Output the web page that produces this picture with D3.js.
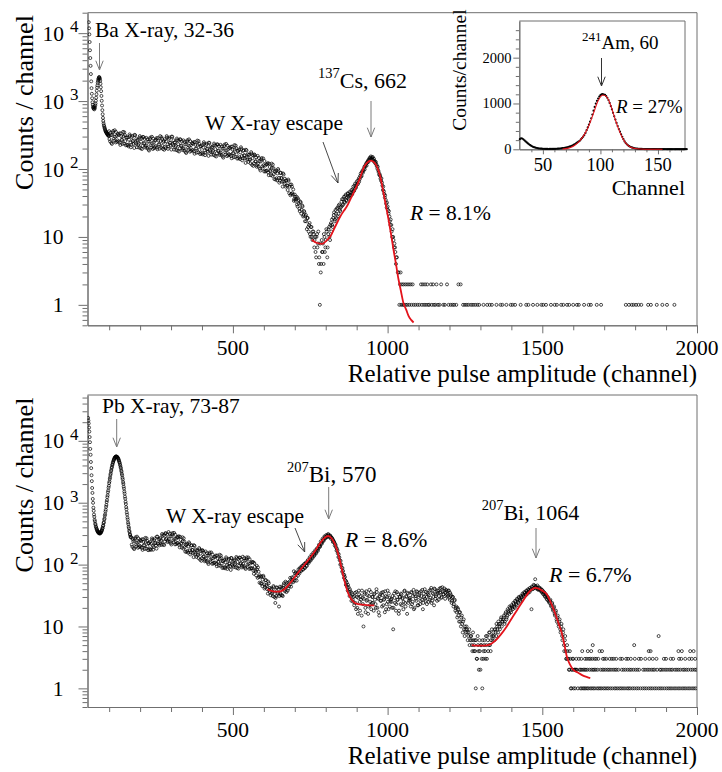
<!DOCTYPE html>
<html><head><meta charset="utf-8">
<script src="https://cdn.jsdelivr.net/npm/d3@7"></script>
<style>
body{margin:0;background:#fff}
svg{display:block}
text{font-family:"Liberation Serif","Times New Roman",serif;fill:#000}
</style>
</head><body>
<svg id="chart" width="722" height="772"></svg>
<script>
// ---------------- DATA ----------------
// Top panel: 137Cs spectrum (counts per channel)
const csLowStart = 34;            // step 1
const csLowCounts = [
 14500,11800,9600,7400,5600,4300,3300,2500,1950,1550,
 1280,1100,960,880,820,790,770,810,755,835,
 790,865,920,1010,1120,1260,1420,1580,1700,1860,
 1980,2090,2150,2230,2260,2200,2120,1990,1800,1600,
 1400,1190,1010,860,735,640,565,510,470,440,
 425,405,392,378,366,357,350,341,344,330,
 330,318,322,310,315,305];
const csMidStart = 100, csMidStep = 3;
const csMidCounts = [
 360,255,315,234,345,279,372,246,306,264,
 254,333,226,305,268,352,237,316,223,290,
 292,215,323,244,228,307,260,204,315,236,
 209,270,237,305,202,285,219,295,242,207,
 288,204,252,187,276,223,298,197,245,211,
 218,285,195,262,232,305,207,278,197,258,
 275,203,305,230,215,290,245,193,298,223,
 193,248,218,281,186,262,202,271,223,190,
 264,187,231,172,253,205,273,180,224,194,
 189,248,168,227,200,262,176,235,166,216,
 223,164,248,187,175,235,199,156,242,181,
 163,210,184,237,157,221,171,229,188,161,
 227,161,198,147,217,176,234,155,193,166,
 162,212,144,194,171,225,151,202,142,185,
 193,140,209,155,144,190,159,123,188,139,
 127,162,139,177,115,160,121,160,130,108,
 156,108,131,95,138,109,143,92,112,94,
 95,122,81,107,92,120,79,103,71,91,
 95,68,100,74,67,88,73,55,83,61,
 55,67,57,70,44,59,43,55,42,34,
 42,34,39,28,35,26,33,22,29,20,
 24,17,21,13,19,12,16,10,14,9,
 12,7,10,5,11,8,4,1,3,9,
 6,4,10,7,13,5,11,14,9,16,
 18,14,21,17,25,19,27,22,30,24,
 28,36,30,39,32,42,34,44,37,46,
 41,49,43,55,48,61,54,66,60,73,
 71,86,79,95,94,108,110,121,124,134,
 136,147,153,139,150,130,131,120,116,101,
 95,82,79,67,63,49,47,38,35,27,
 28,22,20,15,15,10,10,7,7,4,5,3,3];
const csMid2Start = 101, csMid2Step = 3;
const csMid2Counts = [
 276,342,243,318,363,261,297,351,252,327,
 316,243,336,268,234,305,347,257,290,226,
 225,270,307,209,294,257,233,318,246,281,
 265,227,207,290,252,197,297,237,277,217,
 221,274,194,254,290,209,238,281,202,262,
 269,206,286,228,199,259,295,218,247,192,
 213,255,290,198,278,243,220,300,233,265,
 244,209,190,267,232,181,274,218,255,200,
 202,251,178,233,266,191,218,257,185,240,
 235,181,250,200,174,227,258,191,216,168,
 173,207,235,160,225,197,179,244,189,215,
 206,176,161,225,196,153,231,184,216,169,
 174,215,153,200,229,164,187,221,159,206,
 202,155,214,171,149,194,221,164,185,144,
 149,176,198,134,185,159,143,192,147,165,
 161,136,121,168,144,111,164,129,149,114,
 120,145,101,129,145,102,114,131,92,117,
 118,89,120,94,81,104,116,84,93,70,
 73,86,95,63,87,74,65,86,65,72,
 68,57,49,67,55,41,59,44,50,36,
 39,36,30,37,31,24,32,25,28,21,
 23,20,17,19,14,15,11,14,10,12,
 11,9,6,10,7,12,5,8,4,6,
 8,11,6,9,12,7,13,10,15,12,
 15,19,23,18,22,26,20,29,25,27,
 33,29,36,33,40,35,38,43,39,41,
 45,42,50,47,57,52,58,62,68,65,
 79,77,90,88,101,99,115,112,128,127,
 143,139,144,148,137,141,125,127,110,108,
 90,84,72,73,57,55,43,41,31,32,
 25,24,17,18,12,13,9,8,6,5];
const csTailThree = [1042];
const csTailTwo = [1040,1046,1051,1057,1063,1069,1075,1081,1108,1114,1121,1128,1140,1147,1158,1173,1192,1229,1236];
const csTailOne = [1038,1044,1049,1053,1059,1064,1070,1077,1084,1090,1097,1103,1111,1118,1124,1131,1135,1143,1150,1155,
 1163,1168,1180,1185,1197,1204,1210,1215,1222,1244,1250,1256,1262,1270,1276,1283,1290,1296,1310,1322,
 1330,1337,1352,1365,1371,1384,1398,1404,1412,1430,1448,1455,1470,1484,1497,1503,1512,1528,1540,1547,
 1561,1568,1580,1587,1600,1612,1618,1635,1650,1657,1676,1690,1770,1780,1789,1795,1803,1811,1820,1842,
 1851,1870,1888,1903,1927];
const csFitChannels = [755,770,788,800,815,830,847,858,868,880,895,910,922,934,946,955,965,976,987,995,1003,1011,1019,1027,1035,1043,1051,1060,1068,1076,1084];
const csFitCounts   = [9.1,8.2,7.9,8.6,10.2,14,20,24,28,36,49.5,72,103,124,133,127,109,78,44,28,18,11,6.5,4.0,2.4,1.6,1.07,0.85,0.68,0.6,0.55];

// Inset: 241Am spectrum
const amStart = 30;   // step 1
const amCounts = [
 220,240,236,218,196,172,150,128,108,90,
 74,60,49,40,33,27,22,18,15,13,
 11,10,9,8,8,7,8,8,9,9,
 10,11,12,14,16,18,21,24,28,33,
 38,43,50,57,66,76,88,101,116,133,
 152,168,186,215,245,276,310,358,418,478,
 540,602,678,758,842,925,998,1058,1108,1150,
 1182,1197,1204,1196,1188,1162,1124,1074,1012,944,
 872,796,720,648,576,506,441,384,328,274,
 220,172,136,108,86,69,55,44,35,28,
 22,18,15,12,10,9,8,7,6,6,
 5,6,4,5,4,6,5,4,5,3,5,4,6,4,3,5,4,5,3,4,6,4,3,5,4,3,5,4,4,3,5,4,3,4,5,3];
const amFitChannels = [67,70,74,78,82,86,90,94,98,101,102,104,107,110,113,116,119,122,126,130,135,140,146,154];
const amFitCounts   = [5,14,40,95,185,320,520,790,1060,1170,1185,1175,1080,880,640,430,255,135,50,17,5,2,0,0];

// Bottom panel: 207Bi spectrum
const biLowStart = 32;   // step 1
const biLowCounts = [
 23500,21200,19100,16400,14100,11500,9500,7400,5950,4550,
 3620,2780,2230,1730,1440,1150,995,830,740,645,
 592,528,500,458,440,411,401,380,374,356,
 353,339,340,328,331,321,327,318,325,319,
 331,326,341,340,358,361,384,390,420,430,
 468,484,532,556,616,650,722,770,858,920,
 1025,1100,1230,1318,1470,1575,1752,1875,2075,2205,
 2425,2570,2810,2965,3215,3375,3630,3785,4040,4185,
 4430,4560,4785,4890,5090,5170,5330,5380,5500,5510,
 5580,5550,5570,5500,5490,5370,5315,5160,5070,4870,
 4760,4530,4400,4150,4000,3750,3590,3330,3170,2920,
 2760,2520,2375,2150,2015,1815,1690,1515,1405,1255,
 1160,1035,952,848,782,696,644,575,535,480,
 450,407,385,352,337,311,301,283,276];
const biMidStart = 172, biMidStep = 3;
const biMidCounts = [
 274,194,239,178,262,212,283,187,233,201,
 194,255,173,233,205,270,181,242,171,222,
 231,173,265,202,193,264,226,181,283,215,
 204,268,239,312,210,301,235,321,267,231,
 336,235,288,211,308,246,325,212,261,223,
 223,287,190,251,215,276,181,235,162,206,
 215,156,229,170,157,206,172,132,200,147,
 133,169,146,185,120,167,127,167,135,113,
 163,114,140,102,150,119,157,103,126,107,
 108,140,94,126,110,144,96,127,88,114,
 118,87,131,98,92,124,105,82,127,95,
 91,118,103,133,88,124,96,129,106,90,
 134,94,116,85,124,99,130,85,104,88,
 87,110,71,92,77,96,61,77,51,64,
 64,45,66,48,43,56,45,34,50,36,
 32,41,36,45,30,24,31,42,35,21,
 44,32,41,31,47,39,53,36,46,41,
 45,61,44,62,57,78,55,75,55,74,
 84,72,90,79,96,83,102,88,108,95,
 118,106,131,116,144,127,156,139,170,152,
 184,168,209,193,237,216,262,241,286,268,
 301,278,312,281,296,260,270,232,238,203,
 207,168,170,132,131,100,101,77,79,61,
 63,47,51,38,43,31,37,26,33,25,
 22,35,19,30,16,38,25,31,15,29,
 10,33,20,37,27,16,31,22,36,24,
 30,18,34,23,40,20,28,15,33,26,
 21,36,27,17,31,23,38,19,29,25,
 28,20,9,34,24,18,36,27,16,30,
 23,33,28,19,37,24,31,16,34,26,
 29,21,35,25,39,20,31,26,36,22,
 32,23,37,27,19,34,40,26,30,35,
 25,38,29,42,26,34,22,40,31,37,
 35,27,41,36,29,43,33,38,28,39,
 37,31,38,27,33,24,30,21,26,18,
 21,14,19,12,17,10,15,8,13,7,
 9,10,8,7,9,6,7,5,8,4,
 6,1,3,7,4,6,2,5,1,3,
 5,4,7,3,6,5,8,4,7,6,
 8,6,9,7,10,8,11,9,13,10,
 12,14,11,16,13,15,18,16,20,17,
 21,19,23,20,25,22,27,24,29,26,
 30,27,33,31,35,32,37,34,39,36,
 40,19,43,41,46,58,44,42,40,43,
 39,41,36,38,33,35,30,32,27,29,
 25,26,22,23,19,20,16,17,13,14,
 11,12,9,10,7,8,5,6,4,3,
 4,3,2,3,1,2,3,2,1,2,
 2,1,3,2];
const biMid2Start = 173, biMid2Step = 3;
const biMid2Counts = [
 210,260,185,242,276,198,226,267,192,249,
 242,186,257,205,179,233,266,197,222,173,
 179,217,252,174,249,221,203,282,221,257,
 258,225,208,297,262,207,319,258,306,243,
 258,316,222,287,324,231,259,303,215,276,
 278,209,282,220,188,239,266,191,211,160,
 166,196,218,146,202,173,154,206,156,175,
 168,142,127,176,150,115,172,134,155,119,
 125,153,108,139,157,111,126,146,104,133,
 134,102,140,111,96,124,140,103,115,89,
 91,109,124,85,119,104,94,128,100,113,
 116,99,90,127,110,86,130,103,121,95,
 103,127,89,116,131,92,104,122,86,109,
 109,80,106,81,67,83,90,63,67,50,
 49,57,63,41,56,47,40,53,39,42,
 40,34,31,43,37,29,43,34,40,31,
 34,43,32,42,50,37,43,51,38,51,
 53,48,58,54,52,65,72,62,71,66,
 75,85,80,91,84,96,90,104,97,107,
 112,113,125,121,137,133,148,146,162,160,
 176,181,200,199,223,227,250,252,276,272,
 289,294,301,287,289,276,262,250,231,218,
 190,182,152,147,118,115,90,88,70,68,
 56,54,44,47,36,40,31,35,27,30,
 31,24,36,20,29,33,18,27,38,23,
 28,35,17,26,32,21,39,25,19,30,
 24,33,27,20,36,29,17,31,26,35,
 32,22,28,37,19,30,25,34,21,27,
 25,31,20,29,37,23,27,33,18,30,
 34,22,29,25,38,21,30,35,24,28,
 27,36,23,31,19,33,28,37,22,30,
 35,26,31,39,24,30,28,36,23,33,
 32,27,39,24,35,30,41,28,33,26,
 38,31,35,42,30,37,33,41,35,32,
 33,38,29,35,31,26,30,23,27,20,
 17,20,15,17,12,14,11,12,9,10,
 8,9,6,8,5,7,6,4,6,5,
 4,6,3,5,2,4,5,3,6,4,
 6,3,5,7,4,8,5,6,9,7,
 7,9,8,11,9,12,10,11,14,12,
 13,15,12,17,14,19,17,21,18,22,
 20,24,21,26,23,28,25,30,27,31,
 29,34,32,36,33,38,35,40,37,42,
 39,44,40,47,42,45,41,46,39,42,
 40,37,39,34,36,31,33,28,30,26,
 24,27,21,24,18,21,15,18,12,15,
 10,13,8,11,6,9,4,7,3,5,
 3,2,4,1,2,3,1,2,2,3];
const biTailOne = [1623,1627,1632,1636,1640,1645,1649,1655,1660,1665,1670,1677,1682,1687,1692,1698,1703,1709,1714,1720,
 1726,1733,1738,1744,1750,1755,1761,1767,1774,1779,1784,1791,1797,1804,1810,1817,1824,1830,1836,1843,
 1849,1855,1862,1868,1875,1881,1887,1894,1901,1907,1913,1919,1926,1932,1939,1945,1952,1958,1964,1971,
 1977,1984,1990,1996];
const biTailTwo = [1624,1628,1633,1637,1641,1646,1653,1659,1664,1668,1673,1679,1688,1694,1699,1705,1711,1716,1722,1729,
 1735,1740,1746,1757,1763,1769,1776,1782,1787,1794,1801,1807,1813,1826,1832,1839,1845,1852,1858,1863,
 1871,1880,1884,1890,1897,1903,1910,1916,1921,1929,1935,1941,1947,1955,1960,1966,1972,1980,1986,1993,1998];
const biTailThree = [1626,1638,1644,1651,1656,1662,1669,1674,1681,1696,1701,1707,1718,1725,1731,1739,1752,1758,1771,1777,
 1786,1799,1812,1819,1833,1846,1857,1869,1893,1900,1915,1923,1942,1949,1962,1975,1983,1994];
const biTailFour = [1629,1647,1658,1685,1693,1844,1850,1940,1951,1978,1989];
const biTailFive = [1663,1797];
const biTailSeven = [1876];
const biFit1Channels = [612,630,645,660,675,690,705,720,735,750,765,780,795,808,820,832,845,855,865,875,890,905,920,940,957];
const biFit1Counts   = [40,37,36.5,38,44,54,68,85,105,130,165,215,268,290,262,200,120,72,45,32,25,23,22.5,22,22];
const biFit2Channels = [1272,1290,1310,1330,1350,1365,1385,1405,1423,1440,1455,1467,1477,1490,1503,1515,1528,1541,1553,1563,1571,1579,1590,1600,1615,1630,1645,1655];
const biFit2Counts   = [5.0,4.9,4.9,5.1,6.0,7.3,10,14.5,20,27,35,40,42,40.5,37,33,24,16.5,11,7.8,5.2,3.3,2.4,2.0,1.8,1.62,1.52,1.47];

// Axis ticks / labels
const mainXTicks = [500, 1000, 1500, 2000];
const mainXMinor = [100,200,300,400,600,700,800,900,1100,1200,1300,1400,1600,1700,1800,1900];
const logTickValues = [1, 10, 100, 1000, 10000];
const logTickBase = ["1", "10", "10", "10", "10"];
const logTickExp  = ["", "", "2", "3", "4"];
const amXTicks = [50, 100, 150];
const amYTicks = [0, 1000, 2000];

// ---------------- DRAWING ----------------
const svg = d3.select("#chart");
const AXIS = "#6f6f6f";
const RED = "#e3131b";

function series(start, step, counts){ return counts.map((c,i)=>({ch:start+i*step, c})); }
function tail(chs, c){ return chs.map(ch=>({ch, c})); }
function styleAxis(g){ g.selectAll("path,line").attr("stroke", AXIS).attr("stroke-width",1); g.selectAll("text").remove(); }

function arrow(g, x1, y1, x2, y2, color, w){
  g.append("line").attr("x1",x1).attr("y1",y1).attr("x2",x2).attr("y2",y2).attr("stroke",color).attr("stroke-width",w);
  const a = Math.atan2(y2-y1, x2-x1), L = 10, s = 0.38;
  g.append("polyline").attr("fill","none").attr("stroke",color).attr("stroke-width",w)
   .attr("points", [[x2 - L*Math.cos(a-s), y2 - L*Math.sin(a-s)], [x2,y2], [x2 - L*Math.cos(a+s), y2 - L*Math.sin(a+s)]].map(p=>p.join(",")).join(" "));
}
function label(g, x, y, parts, anchor){
  const t = g.append("text").attr("x",x).attr("y",y).attr("text-anchor",anchor||"start");
  parts.forEach(p=>{
    const s = t.append("tspan").text(p.t).attr("font-size",p.size);
    if (p.dy) s.attr("dy",p.dy);
    if (p.italic) s.attr("font-style","italic");
  });
  return t;
}

function logPanel(o){
  const x = d3.scaleLinear().domain([30, 2000]).range([87.5, 697]);
  const y = d3.scaleLog().domain(o.yDomain).range(o.yRange);
  const g = svg.append("g");
  const [yb, yt] = o.yRange;
  const id = "clip"+o.id;
  g.append("clipPath").attr("id",id).append("rect").attr("x",87.5).attr("y",yt).attr("width",697-87.5).attr("height",yb-yt);

  g.append("line").attr("x1",87.5).attr("x2",697).attr("y1",yt).attr("y2",yt).attr("stroke",AXIS);
  g.append("line").attr("x1",697).attr("x2",697).attr("y1",yt).attr("y2",yb).attr("stroke",AXIS);

  g.append("g").attr("transform",`translate(0,${yb})`).call(d3.axisBottom(x).tickValues(mainXMinor).tickSize(5).tickSizeOuter(0)).call(styleAxis);
  g.append("g").attr("transform",`translate(0,${yb})`).call(d3.axisBottom(x).tickValues(mainXTicks).tickSize(8).tickSizeOuter(0)).call(styleAxis);
  mainXTicks.forEach(v=>{
    g.append("text").attr("x",x(v)).attr("y",yb+30).attr("text-anchor","middle").attr("font-size",21.5).text(v);
  });
  g.append("text").attr("x",697).attr("y",yb+57).attr("text-anchor","end").attr("font-size",25).text("Relative pulse amplitude (channel)");

  const minors = [];
  [0.1,1,10,100,1000,10000].forEach(d=>{ for(let m=2;m<=9;m++){ const v=m*d; if(v>=o.yDomain[0]-1e-9 && v<=o.yDomain[1]) minors.push(v);} });
  g.append("g").attr("transform","translate(87.5,0)").call(d3.axisLeft(y).tickValues(minors).tickSize(5).tickSizeOuter(0)).call(styleAxis);
  g.append("g").attr("transform","translate(87.5,0)").call(d3.axisLeft(y).tickValues(logTickValues).tickSize(9).tickSizeOuter(0)).call(styleAxis);
  logTickValues.forEach((v,i)=>{
    const yy = y(v);
    if (logTickExp[i]) {
      g.append("text").attr("x",42.5).attr("y",yy+7.5).attr("font-size",21.5).text(logTickBase[i])
        .append("tspan").attr("dx",6).attr("dy",-8.5).attr("font-size",17).text(logTickExp[i]);
    } else {
      g.append("text").attr("x",63.5).attr("y",yy+7.5).attr("text-anchor","end").attr("font-size",21.5).text(logTickBase[i]);
    }
  });
  g.append("text").attr("transform",`translate(33,${o.yLabelCenter}) rotate(-90)`).attr("text-anchor","middle").attr("font-size",26).text("Counts / channel");

  const pts = o.points.filter(d=>d.c>0);
  g.append("g").attr("clip-path",`url(#${id})`).selectAll("circle").data(pts).join("circle")
    .attr("cx",d=>x(d.ch)).attr("cy",d=>y(d.c)).attr("r",1.5)
    .attr("fill","none").attr("stroke","#000").attr("stroke-width",0.7);

  const line = d3.line().x(d=>x(d[0])).y(d=>y(d[1])).curve(d3.curveMonotoneX);
  o.fits.forEach(f=>{
    g.append("path").attr("clip-path",`url(#${id})`).attr("d", line(d3.zip(f[0], f[1])))
      .attr("fill","none").attr("stroke",RED).attr("stroke-width",1.8);
  });
  return {g, x, y};
}

// ---- Top panel ----
const topPanel = logPanel({
  id:"top", yDomain:[0.5, 20000], yRange:[325.3, 12.7], yLabelCenter:102.5,
  points: [].concat(series(csLowStart,1,csLowCounts), series(csMidStart,csMidStep,csMidCounts),
                    series(csMid2Start,csMid2Step,csMid2Counts),
                    tail(csTailOne,1), tail(csTailTwo,2), tail(csTailThree,3)),
  fits: [[csFitChannels, csFitCounts]]
});
{
  const g = topPanel.g;
  label(g, 95, 37, [{t:"Ba X-ray, 32-36", size:21.5}]);
  arrow(g, 99.5, 43, 99.5, 70, "#7a7a7a", 1);
  label(g, 318, 88, [{t:"137", size:14.5, dy:-10},{t:"Cs, 662", size:22, dy:10}]);
  arrow(g, 371, 101, 371, 137, "#7a7a7a", 1);
  label(g, 205, 130, [{t:"W X-ray escape", size:21.5}]);
  arrow(g, 323, 142, 338, 183, "#333", 0.9);
  label(g, 410, 220, [{t:"R", size:21.5, italic:true},{t:" = 8.1%", size:21.5}]);
}

// ---- Inset ----
{
  const x = d3.scaleLinear().domain([29.5, 173.5]).range([519.3, 685]);
  const y = d3.scaleLinear().domain([0, 2800]).range([149.3, 21]);
  const g = svg.append("g");
  g.append("rect").attr("x",519.3).attr("y",21).attr("width",685-519.3).attr("height",149.3-21).attr("fill","#fff");
  g.append("line").attr("x1",519.3).attr("x2",685).attr("y1",21).attr("y2",21).attr("stroke",AXIS);
  g.append("line").attr("x1",685).attr("x2",685).attr("y1",21).attr("y2",149.3).attr("stroke",AXIS);
  const yMinor = d3.range(200, 2800, 200).filter(v=>v%1000!==0);
  const xMinor = d3.range(40, 174, 10).filter(v=>v%50!==0);
  g.append("g").attr("transform","translate(519.3,0)").call(d3.axisLeft(y).tickValues(yMinor).tickSize(3.5).tickSizeOuter(0)).call(styleAxis);
  g.append("g").attr("transform","translate(519.3,0)").call(d3.axisLeft(y).tickValues(amYTicks).tickSize(6).tickSizeOuter(0)).call(styleAxis);
  g.append("g").attr("transform","translate(0,149.3)").call(d3.axisBottom(x).tickValues(xMinor).tickSize(3).tickSizeOuter(0)).call(styleAxis);
  g.append("g").attr("transform","translate(0,149.3)").call(d3.axisBottom(x).tickValues(amXTicks).tickSize(5).tickSizeOuter(0)).call(styleAxis);
  amYTicks.forEach(v=>g.append("text").attr("x",511.5).attr("y",y(v)+5).attr("text-anchor","end").attr("font-size",14.5).text(v));
  amXTicks.forEach(v=>g.append("text").attr("x",x(v)).attr("y",171).attr("text-anchor","middle").attr("font-size",18.5).text(v));
  g.append("text").attr("x",685).attr("y",195).attr("text-anchor","end").attr("font-size",22).text("Channel");
  g.append("text").attr("transform","translate(466,70) rotate(-90)").attr("text-anchor","middle").attr("font-size",19.5).text("Counts/channel");
  g.append("g").selectAll("circle").data(series(amStart,1,amCounts)).join("circle")
    .attr("cx",d=>x(d.ch)).attr("cy",d=>y(d.c)).attr("r",1.1).attr("fill","#000");
  const line = d3.line().x(d=>x(d[0])).y(d=>y(d[1])).curve(d3.curveMonotoneX);
  g.append("path").attr("d", line(d3.zip(amFitChannels, amFitCounts))).attr("fill","none").attr("stroke",RED).attr("stroke-width",1.1);
  label(g, 582, 48.5, [{t:"241", size:13, dy:-8},{t:"Am, 60", size:19, dy:8}]);
  arrow(g, 601.5, 58, 601.5, 86, "#333", 1);
  label(g, 616, 113, [{t:"R", size:19, italic:true},{t:" = 27%", size:19}]);
}

// ---- Bottom panel ----
const botPanel = logPanel({
  id:"bot", yDomain:[0.5, 55000], yRange:[707, 395], yLabelCenter:485,
  points: [].concat(series(biLowStart,1,biLowCounts), series(biMidStart,biMidStep,biMidCounts),
                    series(biMid2Start,biMid2Step,biMid2Counts),
                    tail(biTailOne,1), tail(biTailTwo,2), tail(biTailThree,3), tail(biTailFour,4),
                    tail(biTailFive,5), tail(biTailSeven,7)),
  fits: [[biFit1Channels, biFit1Counts], [biFit2Channels, biFit2Counts]]
});
{
  const g = botPanel.g;
  label(g, 102, 413, [{t:"Pb X-ray, 73-87", size:21.5}]);
  arrow(g, 116.7, 419, 116.7, 447, "#7a7a7a", 1);
  label(g, 166, 523, [{t:"W X-ray escape", size:21.5}]);
  arrow(g, 295, 528, 304.7, 552, "#333", 0.9);
  label(g, 287, 481.7, [{t:"207", size:14.5, dy:-10},{t:"Bi, 570", size:23, dy:10}]);
  arrow(g, 328.7, 487, 328.7, 519, "#7a7a7a", 1);
  label(g, 344.7, 546.7, [{t:"R", size:22, italic:true},{t:" = 8.6%", size:22}]);
  label(g, 481.7, 520, [{t:"207", size:14.5, dy:-10},{t:"Bi, 1064", size:22, dy:10}]);
  arrow(g, 536, 528, 536, 558, "#7a7a7a", 1);
  label(g, 549, 581.7, [{t:"R", size:22, italic:true},{t:" = 6.7%", size:22}]);
}
</script>
</body></html>
